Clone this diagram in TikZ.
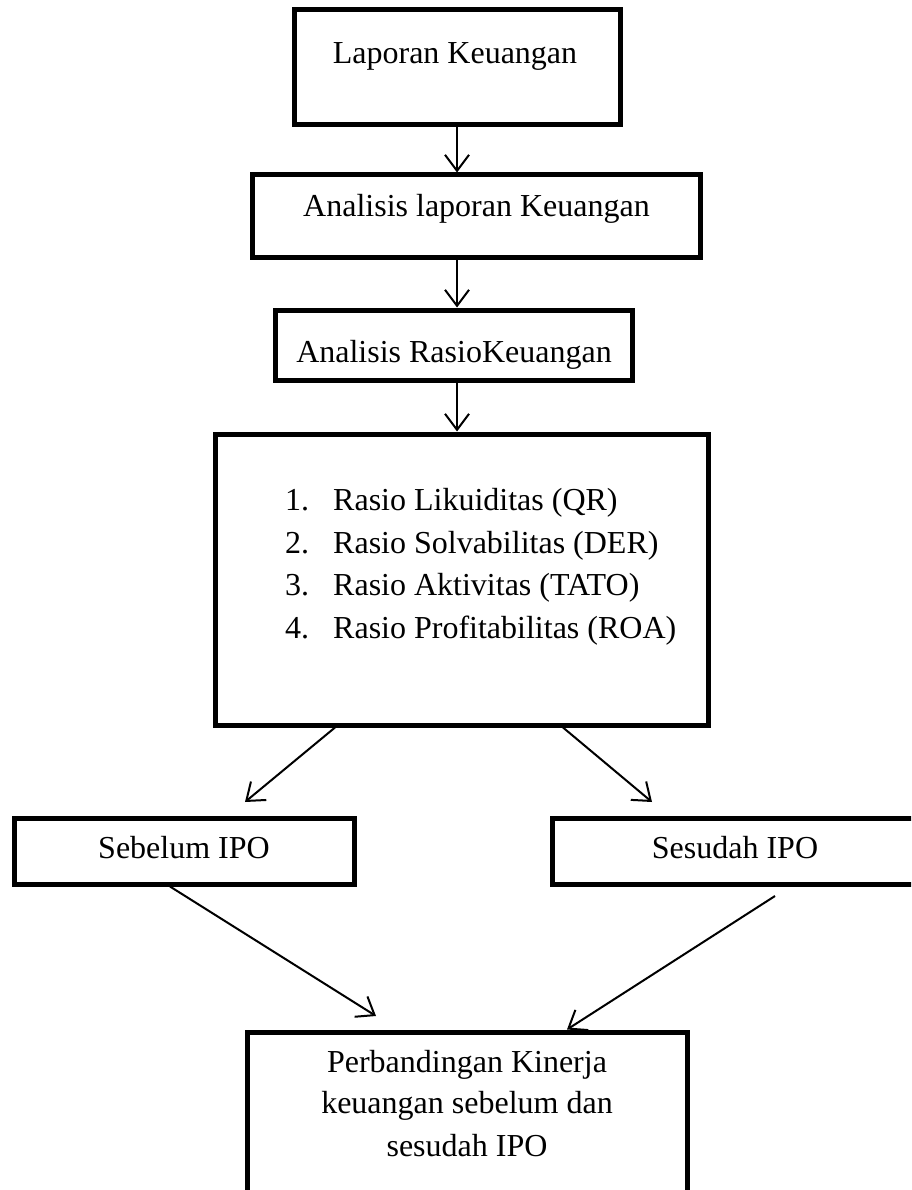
\documentclass[tikz,border=0pt]{standalone}
\usepackage{fontspec}
\setmainfont{Liberation Serif}
\usetikzlibrary{arrows.meta}
\begin{document}
\begin{tikzpicture}[x=1pt,y=-1pt,
  box/.style={draw, line width=5pt, rectangle, inner sep=0pt},
  lbl/.style={font=\fontsize{32pt}{42pt}\selectfont, inner sep=0pt, anchor=base},
  conn/.style={line width=2pt, -{Straight Barb[length=16pt,width=24pt]}}]
\useasboundingbox (0,0) rectangle (911,1190);
\clip (0,0) rectangle (911,1190);
% boxes
\node[box, minimum width=326pt, minimum height=115pt] (b1) at (457,67.5) {};
\node[box, minimum width=448pt, minimum height=82pt] (b2) at (476,216) {};
\node[box, minimum width=357pt, minimum height=70pt] (b3) at (453.5,345) {};
\node[box, minimum width=493pt, minimum height=291pt] (b4) at (461.5,579.5) {};
\node[box, minimum width=340pt, minimum height=66pt] (b5) at (184,851) {};
\node[box, minimum width=371pt, minimum height=66pt] (b6) at (737.5,851) {};
\node[box, minimum width=440pt, minimum height=176pt] (b7) at (467,1120) {};
% texts
\node[lbl] (t1) at (455,64) {Laporan Keuangan};
\node[lbl] (t2) at (476.5,217) {Analisis laporan Keuangan};
\node[lbl] (t3) at (454,362) {Analisis RasioKeuangan};
\node[lbl, anchor=base west] (l1) at (285,510) {\makebox[48pt][l]{1.}Rasio Likuiditas (QR)};
\node[lbl, anchor=base west] (l2) at (285,553) {\makebox[48pt][l]{2.}Rasio Solvabilitas (DER)};
\node[lbl, anchor=base west] (l3) at (285,595) {\makebox[48pt][l]{3.}Rasio Aktivitas (TATO)};
\node[lbl, anchor=base west] (l4) at (285,638) {\makebox[48pt][l]{4.}Rasio Profitabilitas (ROA)};
\node[lbl] (t5) at (184,858) {Sebelum IPO};
\node[lbl] (t6) at (735,858) {Sesudah IPO};
\node[lbl] (t7a) at (467,1072) {Perbandingan Kinerja};
\node[lbl] (t7b) at (467,1113) {keuangan sebelum dan};
\node[lbl] (t7c) at (467,1156) {sesudah IPO};
% connectors
\coordinate (ax) at (457,0);
\coordinate (tip5) at (245,802);
\coordinate (tip6) at (652,802);
\coordinate (tip7l) at (376,1016);
\coordinate (st6) at (775,896);
\draw[conn] (b1.south) -- (b2.north -| ax);
\draw[conn] (b2.south -| ax) -- (b3.north -| ax);
\draw[conn] (b3.south -| ax) -- (b4.north -| ax);
\draw[conn] ([xshift=-126.5pt]b4.south) -- (tip5);
\draw[conn] ([xshift=101.5pt]b4.south) -- (tip6);
\draw[conn] ([xshift=-14pt]b5.south) -- (tip7l);
\draw[conn] (st6) -- ([xshift=100pt]b7.north);
\end{tikzpicture}
\end{document}
